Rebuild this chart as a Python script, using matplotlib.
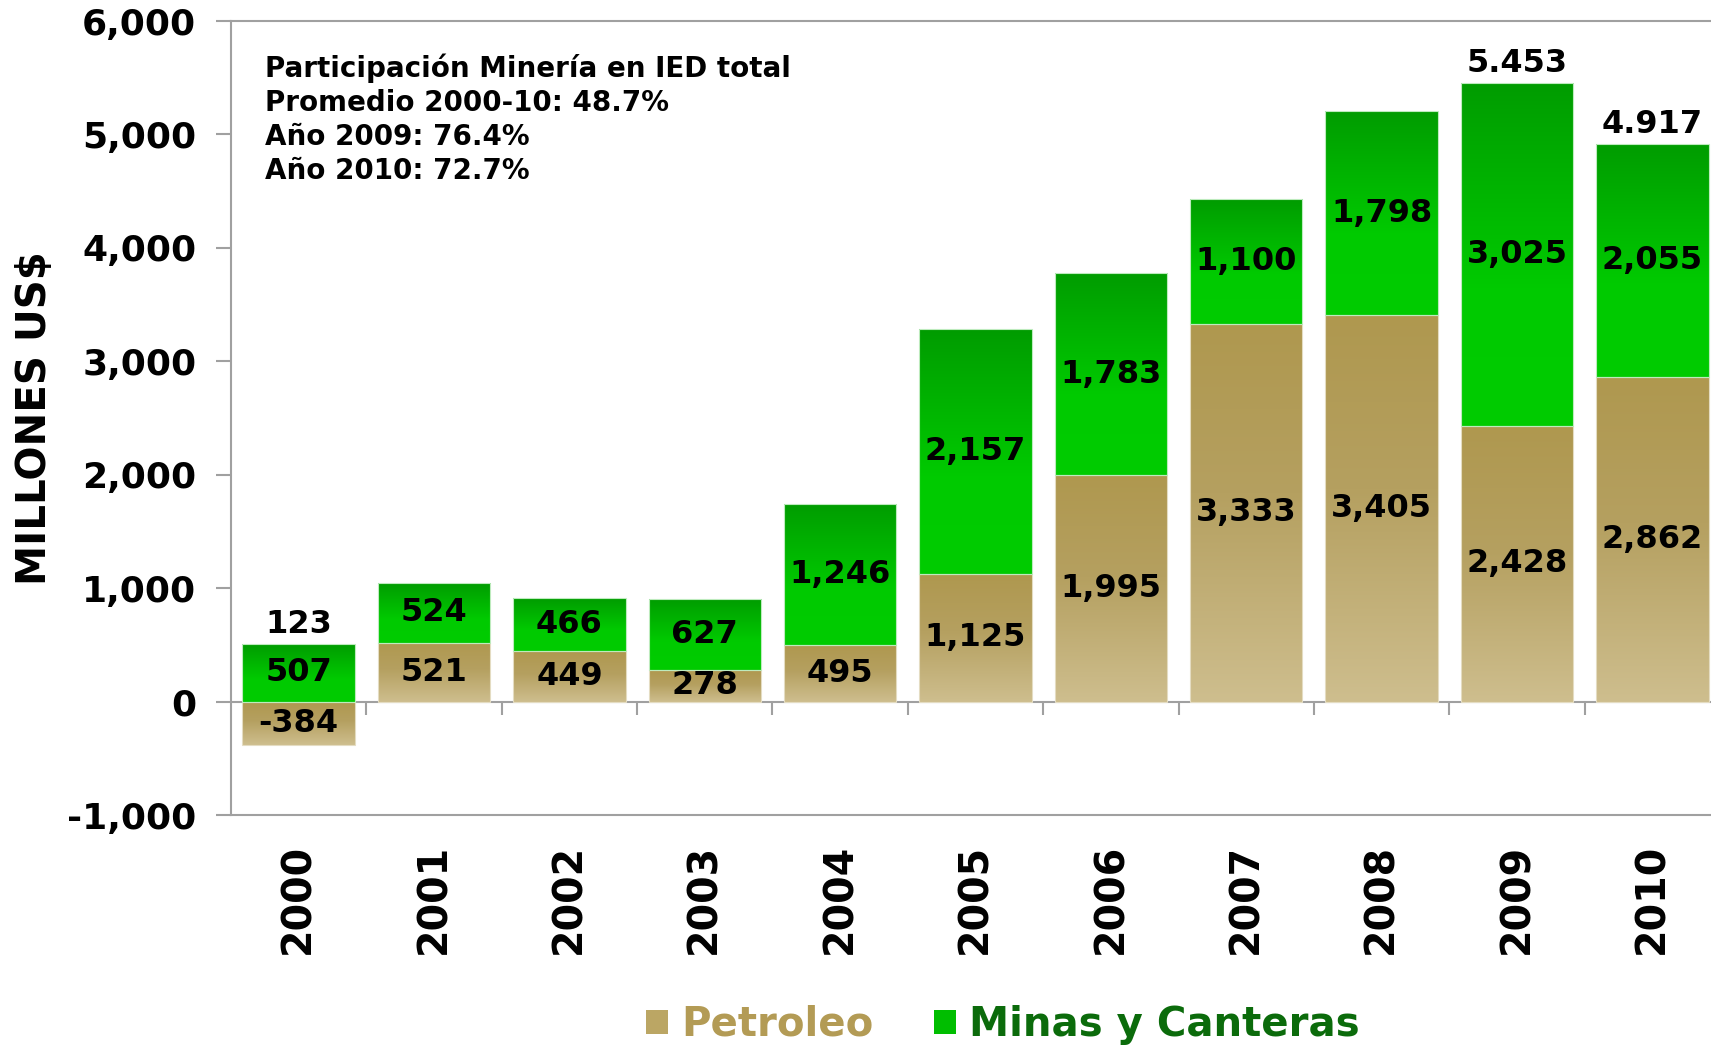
import numpy as np
import matplotlib
matplotlib.use("Agg")
import matplotlib.pyplot as plt
from matplotlib.colors import LinearSegmentedColormap
from matplotlib.patches import Patch

# ---------------- data ----------------
years = ["2000", "2001", "2002", "2003", "2004", "2005",
         "2006", "2007", "2008", "2009", "2010"]
petroleo = [-384, 521, 449, 278, 495, 1125, 1995, 3333, 3405, 2428, 2862]
minas = [507, 524, 466, 627, 1246, 2157, 1783, 1100, 1798, 3025, 2055]
totales = [123, None, None, None, None, None, None, None, None, 5453, 4917]
yticks = [-1000, 0, 1000, 2000, 3000, 4000, 5000, 6000]
nota = ["Participación Minería en IED total",
        "Promedio 2000-10: 48.7%",
        "Año 2009: 76.4%",
        "Año 2010: 72.7%"]
series_names = ["Petroleo", "Minas y Canteras"]

# ---------------- style ----------------
plt.rcParams["font.family"] = ["DejaVu Sans"]
plt.rcParams["font.weight"] = "bold"
plt.rcParams["axes.labelweight"] = "bold"

GRAY = "#A0A0A0"
TAN_STOPS = [(0.0, "#AF984F"), (0.45, "#B5A060"), (1.0, "#CEBE8E")]
GREEN_STOPS = [(0.0, "#009C00"), (0.6, "#00CA00"), (1.0, "#00CC00")]
tan_cmap = LinearSegmentedColormap.from_list("tan", TAN_STOPS)
green_cmap = LinearSegmentedColormap.from_list("green", GREEN_STOPS)

fig = plt.figure(figsize=(17.11, 10.48), dpi=100)
ax = fig.add_axes([0.1350, 0.2223, 0.8703, 0.7576])

x = np.arange(len(years))
w = 0.83
min_bottom = np.maximum(petroleo, 0)

bars_p = ax.bar(x, petroleo, w, facecolor="none", edgecolor="#E4DCC2",
                linewidth=0.8, zorder=3)
bars_m = ax.bar(x, minas, w, bottom=min_bottom, facecolor="none",
                edgecolor="#BDEBBD", linewidth=0.8, zorder=3)

grad = np.linspace(0, 1, 256)[:, None]


def gradient_fill(rect, cmap):
    x0, y0 = rect.get_x(), rect.get_y()
    rw, rh = rect.get_width(), rect.get_height()
    lo, hi = min(y0, y0 + rh), max(y0, y0 + rh)
    im = ax.imshow(cmap(grad), extent=(x0, x0 + rw, lo, hi), origin="upper",
                   aspect="auto", interpolation="bilinear", zorder=2)
    im.set_clip_path(rect)


for r in bars_p:
    gradient_fill(r, tan_cmap)
for r in bars_m:
    gradient_fill(r, green_cmap)

LABEL_SIZE = 23

# value labels centred in each segment
for xi, v in zip(x, petroleo):
    ax.text(xi, v / 2, f"{v:,}", ha="center", va="center", fontsize=LABEL_SIZE,
            color="black", zorder=5)
for xi, b, v in zip(x, min_bottom, minas):
    ax.text(xi, b + v / 2, f"{v:,}", ha="center", va="center",
            fontsize=LABEL_SIZE, color="black", zorder=5)

# total labels above the bars
for xi, b, v, t in zip(x, min_bottom, minas, totales):
    if t is None:
        continue
    ax.annotate(f"{t:,}".replace(",", "."), (xi, b + v), xytext=(0, 3),
                textcoords="offset points", ha="center", va="bottom",
                fontsize=LABEL_SIZE, color="black", zorder=5)

# zero line with category separators
ax.axhline(0, color=GRAY, lw=1.5, zorder=1.5)
ax.vlines(x[:-1] + 0.5, -115, 0, color=GRAY, lw=1.5, zorder=1.5)

ax.set_xlim(-0.5, len(years) - 0.5)
ax.set_ylim(-1000, 6000)

ax.set_yticks(yticks)
ax.set_yticklabels([f"{v:,}" for v in yticks])
ax.set_xticks(x)
ax.set_xticklabels(years, rotation=90)

ax.tick_params(axis="y", length=11, width=1.5, color=GRAY, pad=14,
               labelsize=26)
ax.tick_params(axis="x", length=0, pad=21, labelsize=28.5)

for s in ("top", "left", "bottom"):
    ax.spines[s].set_color(GRAY)
    ax.spines[s].set_linewidth(1.5)
ax.spines["right"].set_visible(False)

ax.set_ylabel("MILLONES US$", fontsize=29, fontweight="bold")
ax.yaxis.set_label_coords(-0.118, 0.5)

# annotation block
for i, line in enumerate(nota):
    fig.text(265 / 1711, 1 - (77 + 34 * i) / 1048, line, fontsize=20,
             ha="left", va="baseline")

# legend
handles = [Patch(facecolor="#BBA664"), Patch(facecolor="#00BE00")]
fig.legend(handles, series_names, loc="center", bbox_to_anchor=(0.586, 0.022),
           ncol=2, frameon=False, fontsize=29, handlelength=0.55,
           handleheight=0.55, handletextpad=0.33, columnspacing=1.5,
           labelcolor=["#B39B55", "#0B6B0B"])

fig.savefig("out.png", dpi=100)
